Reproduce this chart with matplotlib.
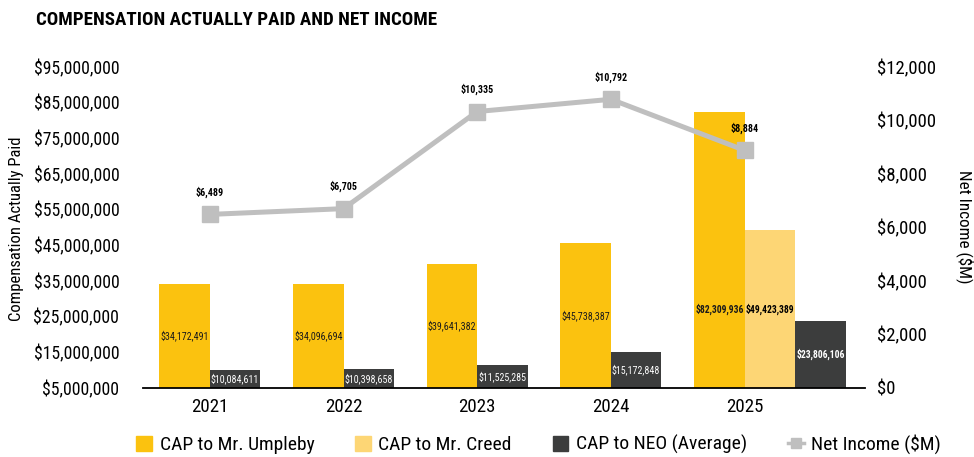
import matplotlib
matplotlib.use("Agg")
import matplotlib.pyplot as plt
from matplotlib import font_manager
from matplotlib.lines import Line2D
from matplotlib.patches import Patch
from matplotlib.ticker import FuncFormatter, MultipleLocator

# ---- data ----
years = ["2021", "2022", "2023", "2024", "2025"]
cap_umpleby = [34172491, 34096694, 39641382, 45738387, 82309936]
cap_creed = [None, None, None, None, 49423389]
cap_neo_avg = [10084611, 10398658, 11525285, 15172848, 23806106]
net_income = [6489, 6705, 10335, 10792, 8884]
cap_ticks = [5e6, 15e6, 25e6, 35e6, 45e6, 55e6, 65e6, 75e6, 85e6, 95e6]

# ---- fonts: prefer a narrow sans ----
names = {f.name for f in font_manager.fontManager.ttflist}
FONT = None
for cand in ["Roboto Condensed", "Liberation Sans Narrow", "Open Sans Condensed",
             "DejaVu Sans Condensed"]:
    if cand in names:
        FONT = cand
        break
STRETCH = "normal"
if FONT is None:
    FONT = "DejaVu Sans"
    STRETCH = "condensed"
plt.rcParams["font.family"] = [FONT, "DejaVu Sans"]
plt.rcParams["font.stretch"] = STRETCH

C_UMP = "#FBC20F"
C_CREED = "#FDD675"
C_NEO = "#3C3D3D"
C_NI = "#BFBFBF"

fig = plt.figure(figsize=(9.74, 4.57), dpi=100)
ax = fig.add_axes([0.1468, 0.151, 0.7412, 0.7024])
ax2 = ax.twinx()

w = 0.378
x = list(range(len(years)))
BASE = cap_ticks[0]

for i in x:
    # primary CEO bar sits left of the category, others follow to the right
    ax.bar(i - w / 2, cap_umpleby[i] - BASE, bottom=BASE, width=w, color=C_UMP,
           zorder=2)
    slot = i + w / 2
    if cap_creed[i] is not None:
        ax.bar(slot, cap_creed[i] - BASE, bottom=BASE, width=w, color=C_CREED,
               zorder=2)
        ax.text(slot, (cap_creed[i] + BASE) / 2, f"${cap_creed[i]:,}",
                ha="center", va="center", fontsize=6.9, fontweight="bold",
                color="black", zorder=3)
        lbl_y = (cap_creed[i] + BASE) / 2
        bold, fs = "bold", 6.9
        slot += w
    else:
        lbl_y = (cap_umpleby[i] + BASE) / 2
        bold, fs = "normal", 7.2
    ax.text(i - w / 2, lbl_y, f"${cap_umpleby[i]:,}", ha="center", va="center",
            fontsize=fs, fontweight=bold, color="#1a1a1a", zorder=3)
    ax.bar(slot, cap_neo_avg[i] - BASE, bottom=BASE, width=w, color=C_NEO,
           zorder=2)
    ax.text(slot, (cap_neo_avg[i] + BASE) / 2, f"${cap_neo_avg[i]:,}",
            ha="center", va="center", fontsize=fs, fontweight=bold,
            color="white", zorder=3)

ax.set_xlim(-0.5, 4.9)
ax.set_ylim(cap_ticks[0], cap_ticks[-1])
ax.set_yticks(cap_ticks)
ax.yaxis.set_major_formatter(FuncFormatter(lambda v, p: f"${v:,.0f}"))
ax.set_xticks(x)
ax.set_xticklabels(years, fontsize=13.6)
ax.tick_params(axis="x", length=0, pad=7)
ax.tick_params(axis="y", length=0, pad=17, labelsize=12.7)

# net income line on the secondary axis
ax2.plot(x, net_income, color=C_NI, lw=3.6, marker="s", ms=11.5,
         zorder=4, solid_capstyle="butt")
for i, v in zip(x, net_income):
    ax2.annotate(f"${v:,}", (i, v), xytext=(0, 12), textcoords="offset points",
                 ha="center", va="bottom", fontsize=7.2, fontweight="bold",
                 color="black")
ax2.set_ylim(0, 12000)
ax2.yaxis.set_major_locator(MultipleLocator(2000))
ax2.yaxis.set_major_formatter(FuncFormatter(lambda v, p: f"${v:,.0f}"))
ax2.tick_params(axis="y", length=0, pad=9, labelsize=13.5)

for a in (ax, ax2):
    for s in ("top", "left", "right"):
        a.spines[s].set_visible(False)
ax2.spines["bottom"].set_visible(False)
ax.spines["bottom"].set_linewidth(1.3)
ax.spines["bottom"].set_color("black")

fig.text(17 / 974, 1 - 229 / 457, "Compensation Actually Paid", fontsize=12,
         rotation=90, ha="center", va="center")
fig.text(965 / 974, 1 - 227 / 457, "Net Income ($M)", fontsize=12.3,
         rotation=270, ha="center", va="center")

fig.text(0.037, 0.956, "COMPENSATION ACTUALLY PAID AND NET INCOME",
         fontsize=13.7, fontweight="bold", ha="left", va="center")

handles = [
    Patch(color=C_UMP, label="CAP to Mr. Umpleby"),
    Patch(color=C_CREED, label="CAP to Mr. Creed"),
    Patch(color=C_NEO, label="CAP to NEO (Average)"),
    Line2D([0], [0], color=C_NI, lw=2.5, marker="s", ms=7,
           label="Net Income ($M)"),
]
fig.legend(handles=handles, loc="center", bbox_to_anchor=(0.553, 0.028),
           ncol=4, frameon=False, fontsize=14, handlelength=0.8,
           handleheight=0.8, handletextpad=0.4, columnspacing=2.1)

fig.savefig("out.png", dpi=100)
